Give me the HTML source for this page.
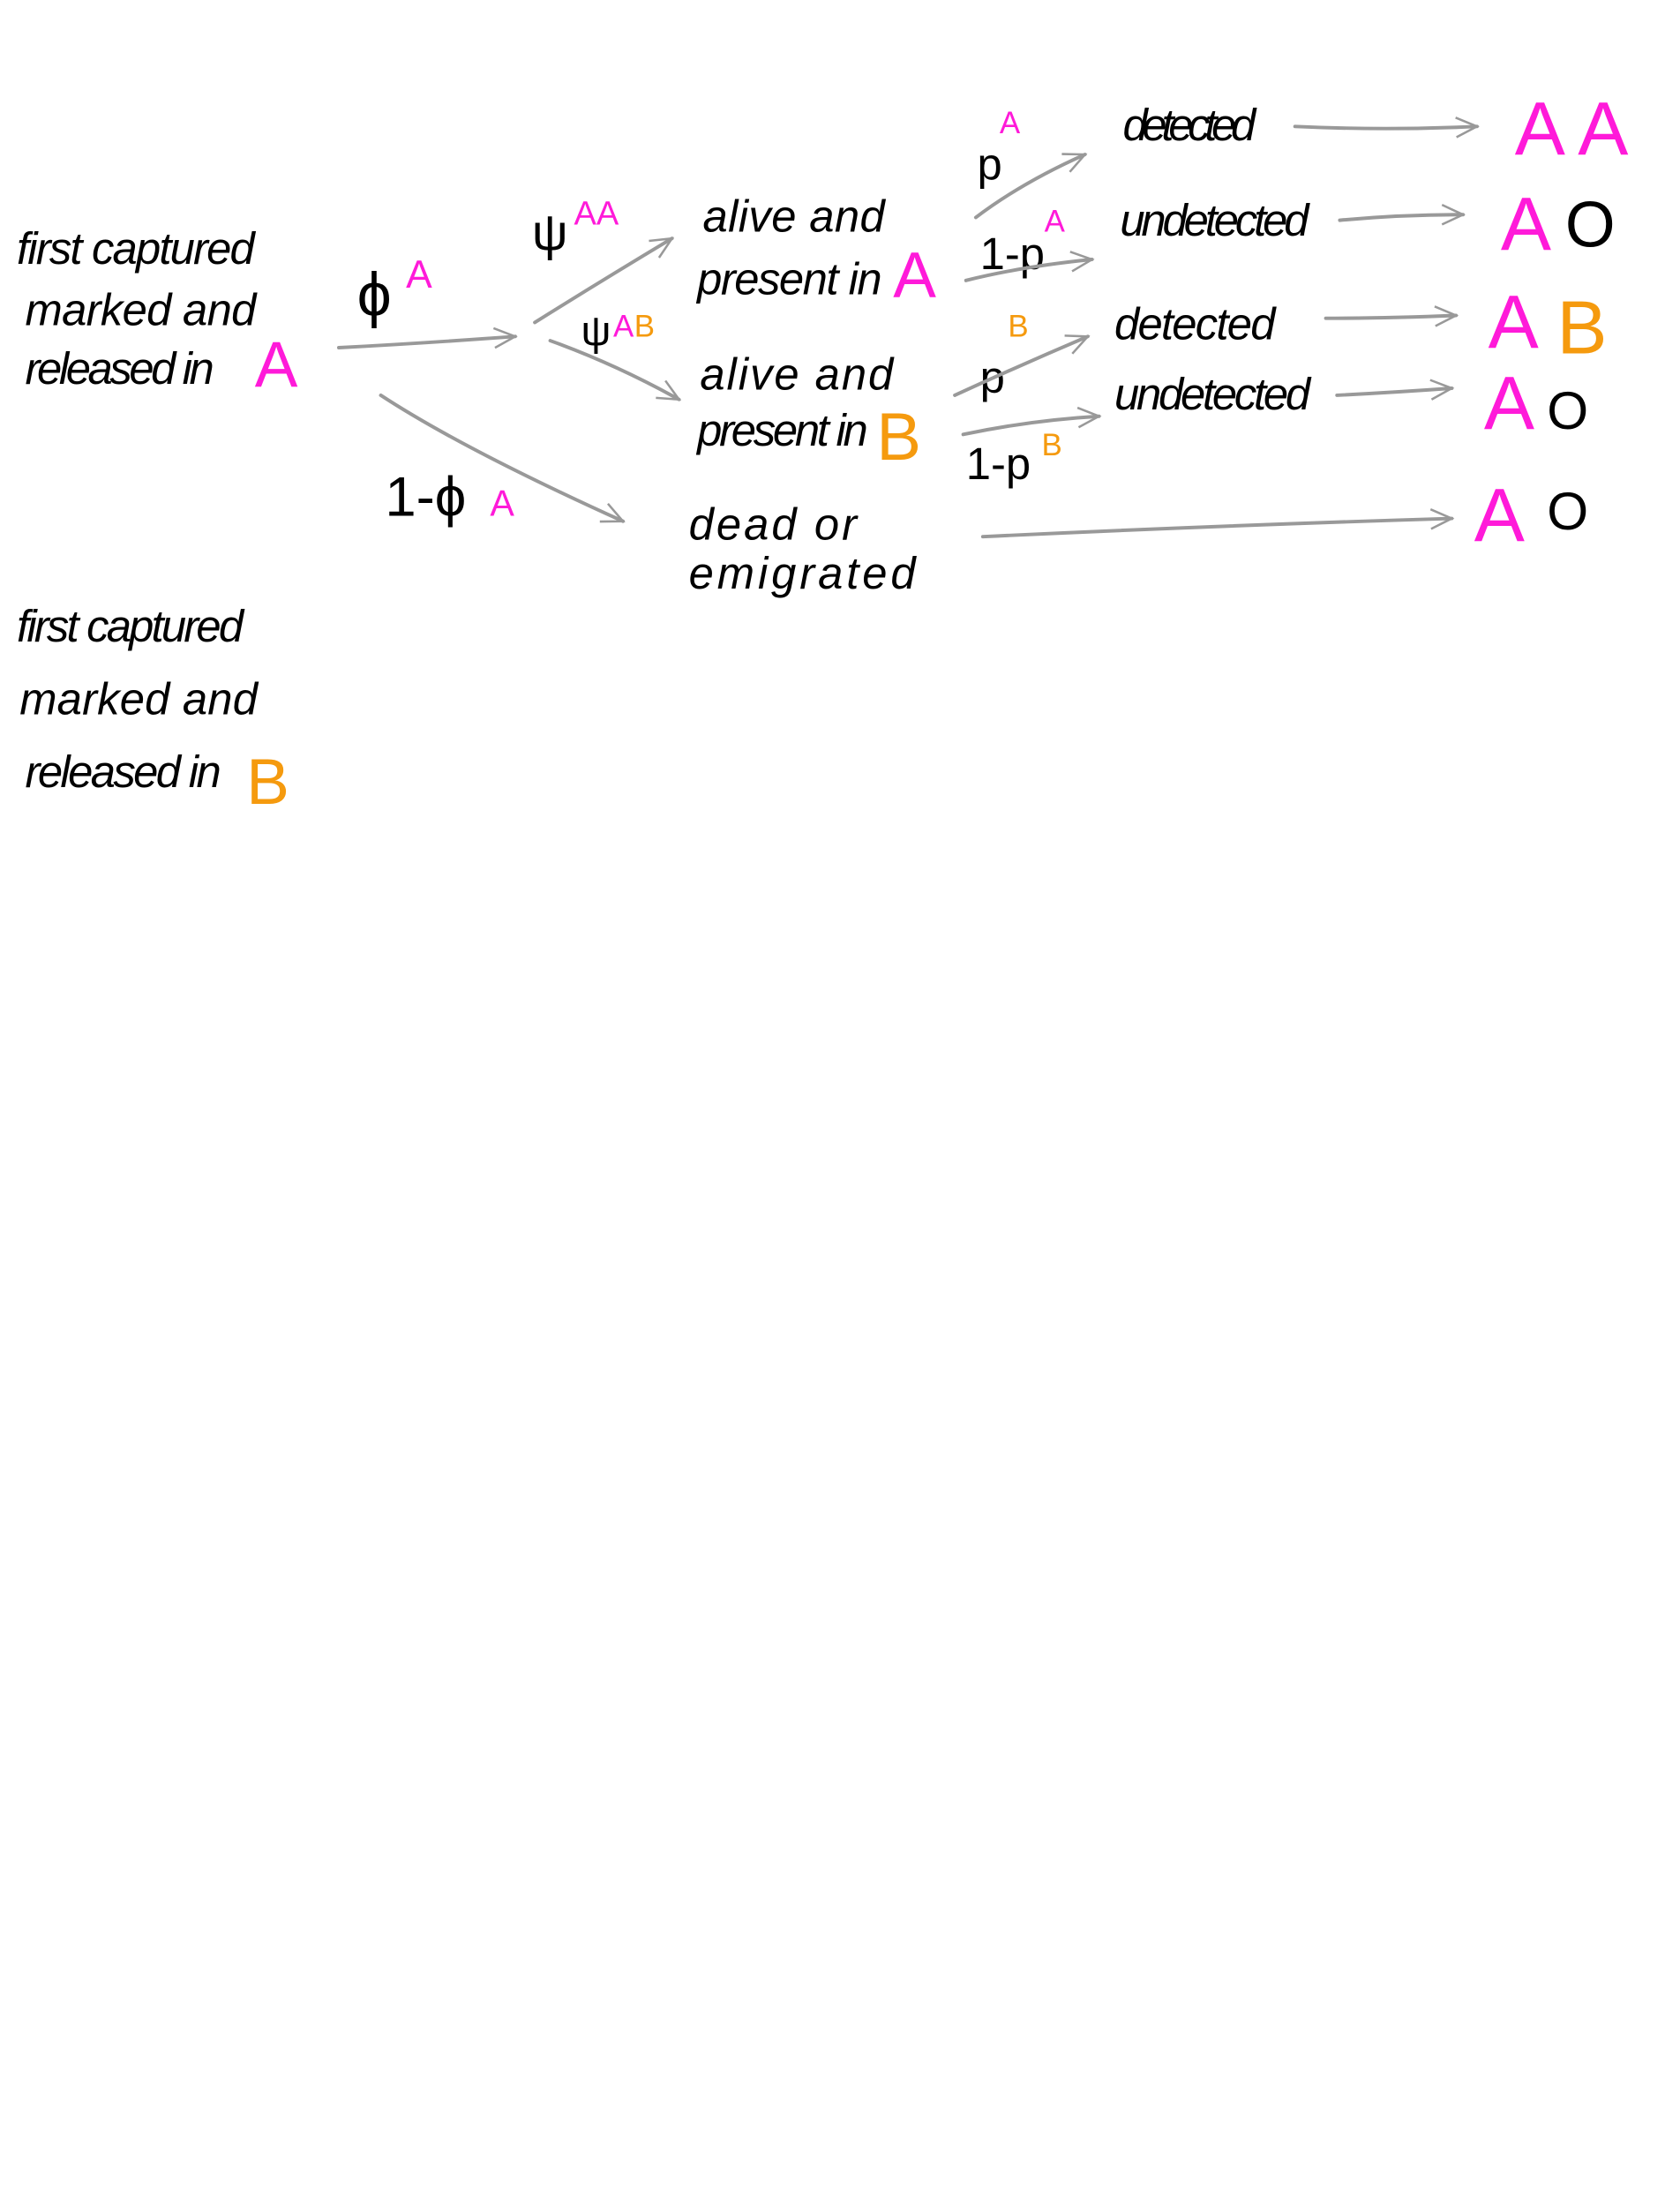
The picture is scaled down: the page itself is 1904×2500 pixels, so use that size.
<!DOCTYPE html>
<html><head><meta charset="utf-8"><style>
html,body{margin:0;padding:0;background:#fff;}
svg{display:block;}
text{font-family:"Liberation Sans",sans-serif;font-style:italic;fill:#000;}
.p{fill:#ff1ad9;font-style:normal;}
.o{fill:#f59a0e;font-style:normal;}
.n{font-style:normal;}
.a{stroke:#999;stroke-width:2.5;fill:none;stroke-linecap:round;}
</style></head><body>
<svg width="1904" height="2500" viewBox="0 0 1200 1575" xmlns="http://www.w3.org/2000/svg">
<defs><marker id="m" viewBox="0 0 20 20" refX="18" refY="10" markerWidth="20" markerHeight="20" orient="auto" markerUnits="userSpaceOnUse"><path d="M3 3 L18 10 L3 17" stroke="#999" stroke-width="1.6" fill="none"/></marker></defs>

<g font-size="32">
<text x="12" y="188" textLength="170">first captured</text>
<text x="18" y="232" textLength="165">marked and</text>
<text x="18" y="274" textLength="135">released in</text>
<text x="182" y="276" class="p" font-size="46">A</text>

<text x="12" y="458" textLength="162">first captured</text>
<text x="14" y="510" textLength="170">marked and</text>
<text x="18" y="562" textLength="140">released in</text>
<text x="176" y="574" class="o" font-size="46">B</text>
</g>

<text x="255" y="225" font-size="44" class="n" style="fill:#000">ϕ</text>
<text x="290" y="205" class="p" font-size="28">A</text>
<text x="275" y="368" font-size="40" class="n" style="fill:#000">1-ϕ</text>
<text x="350" y="368" class="p" font-size="26">A</text>

<text x="380" y="178" font-size="36" class="n" style="fill:#000">ψ</text>
<text x="410" y="160" class="p" font-size="24">AA</text>
<text x="415" y="246" font-size="30" class="n" style="fill:#000">ψ</text>
<text x="438" y="240" class="p" font-size="22">A</text>
<text x="453" y="240" class="o" font-size="22">B</text>

<path class="a" marker-end="url(#m)" d="M242 248 Q300 245 368 240"/>
<path class="a" marker-end="url(#m)" d="M272 282 Q330 320 445 372"/>
<path class="a" marker-end="url(#m)" d="M382 230 Q430 200 480 170"/>
<path class="a" marker-end="url(#m)" d="M393 243 Q440 260 485 285"/>

<g font-size="32">
<text x="502" y="165" textLength="130">alive and</text>
<text x="498" y="210" textLength="132">present in</text>
<text x="638" y="212" class="p" font-size="46">A</text>
<text x="500" y="278" textLength="138">alive and</text>
<text x="498" y="318" textLength="122">present in</text>
<text x="626" y="328" class="o" font-size="48">B</text>
<text x="492" y="385" textLength="120">dead or</text>
<text x="492" y="420" textLength="162">emigrated</text>
</g>

<g font-size="32">
<text x="698" y="128" class="n" style="fill:#000">p</text>
<text x="700" y="192" class="n" style="fill:#000">1-p</text>
<text x="700" y="280" class="n" style="fill:#000">p</text>
<text x="690" y="342" class="n" style="fill:#000">1-p</text>
</g>
<text x="714" y="95" class="p" font-size="22">A</text>
<text x="746" y="165" class="p" font-size="22">A</text>
<text x="720" y="240" class="o" font-size="22">B</text>
<text x="744" y="325" class="o" font-size="22">B</text>

<path class="a" marker-end="url(#m)" d="M697 155 Q730 130 775 110"/>
<path class="a" marker-end="url(#m)" d="M690 200 Q730 190 780 185"/>
<path class="a" marker-end="url(#m)" d="M682 282 Q730 260 777 240"/>
<path class="a" marker-end="url(#m)" d="M688 310 Q735 300 785 297"/>

<g font-size="32">
<text x="802" y="100" textLength="95">detected</text>
<text x="800" y="168" textLength="135">undetected</text>
<text x="796" y="242" textLength="115">detected</text>
<text x="796" y="292" textLength="140">undetected</text>
</g>

<path class="a" marker-end="url(#m)" d="M925 90 Q990 93 1055 90"/>
<path class="a" marker-end="url(#m)" d="M957 157 Q1000 153 1045 153"/>
<path class="a" marker-end="url(#m)" d="M947 227 Q990 227 1040 225"/>
<path class="a" marker-end="url(#m)" d="M955 282 Q995 280 1037 277"/>
<path class="a" marker-end="url(#m)" d="M702 383 Q870 375 1037 370"/>

<g font-size="54">
<text x="1082" y="110" class="p">A A</text>
<text x="1072" y="178" class="p">A</text>
<text x="1118" y="176" class="n" style="fill:#000" font-size="46">O</text>
<text x="1063" y="248" class="p">A</text>
<text x="1112" y="252" class="o">B</text>
<text x="1060" y="306" class="p">A</text>
<text x="1105" y="306" class="n" style="fill:#000" font-size="38">O</text>
<text x="1053" y="386" class="p">A</text>
<text x="1105" y="378" class="n" style="fill:#000" font-size="38">O</text>
</g>
</svg>
</body></html>
